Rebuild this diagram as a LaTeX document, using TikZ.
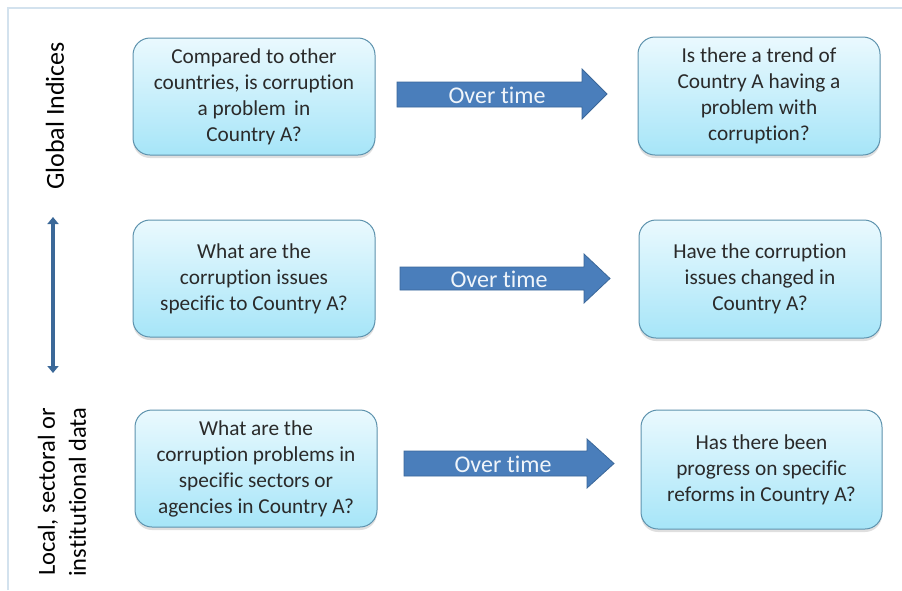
\documentclass[tikz,border=0pt]{standalone}
\usepackage{fontspec}
\setmainfont{Carlito}[Ligatures=NoCommon]
\usetikzlibrary{shadows,arrows.meta}
\definecolor{boxtop}{HTML}{EAF9FE}
\definecolor{boxbot}{HTML}{A6E5F8}
\definecolor{boxline}{HTML}{5E93AE}
\definecolor{arrfill}{HTML}{4A7EBB}
\definecolor{arrline}{HTML}{3A6799}
\definecolor{txt}{HTML}{2A2A2A}
\definecolor{frame}{HTML}{D3E2EE}
\definecolor{vert}{HTML}{3B6898}
\tikzset{
  qbox/.style={draw=boxline, line width=1pt, rounded corners=17pt,
    top color=boxtop, bottom color=boxbot, minimum width=242pt, minimum height=117pt,
    align=center, text=txt, font=\fontsize{21.3}{26}\selectfont, inner sep=0pt,
    drop shadow={opacity=0.25, shadow xshift=0pt, shadow yshift=-3pt}},
  overarrow/.style={fill=arrfill, draw=arrline, line width=0.8pt},
  overlabel/.style={text=white!92!arrfill, font=\fontsize{24}{26}\selectfont, inner sep=0pt},
  sidelabel/.style={text=black, rotate=90, align=center, inner sep=0pt}
}
\begin{document}
\begin{tikzpicture}[x=1pt,y=-1pt]
\useasboundingbox (0,0) rectangle (902,590);
\fill[white] (0,0) rectangle (902,590);
% frame
\draw[frame, line width=2pt] (8,590) -- (8,8) -- (902,8);

% boxes
\node[qbox] (b1) at (254,96.5) {Compared to other\\countries, is corruption\\a problem\, in\\Country A?};
\node[qbox, minimum height=118pt] (b2) at (759,96) {Is there a trend of\\Country A having a\\problem with\\corruption?};
\node[qbox] (b3) at (254,278.5) {What are the\\corruption issues\\specific to Country A?};
\node[qbox, minimum height=118pt] (b4) at (760,279) {Have the corruption\\issues changed in\\Country A?};
\node[qbox] (b5) at (256,468.5) {What are the\\corruption problems in\\specific sectors or\\agencies in Country A?};
\node[qbox, minimum width=241pt, minimum height=119pt] (b6) at (761.5,469.5) {Has there been\\progress on specific\\reforms in Country A?};

% over time arrows
\draw[overarrow] (397,82) -- (582,82) -- (582,69) -- (607,94) -- (582,119) -- (582,107) -- (397,107) -- cycle;
\node[overlabel] (t1) at (497,95) {Over time};
\draw[overarrow] (400,267) -- (584,267) -- (584,254) -- (610,278.5) -- (584,303) -- (584,290) -- (400,290) -- cycle;
\node[overlabel] (t2) at (499,279) {Over time};
\draw[overarrow] (404,451) -- (587,451) -- (587,439) -- (614,463.5) -- (587,488) -- (587,476) -- (404,476) -- cycle;
\node[overlabel] (t3) at (503,464) {Over time};

% vertical double arrow
\coordinate (vtop) at (53,217);
\coordinate (vbot) at (53,373);
\draw[vert, line width=3.5pt, {Triangle[width=11pt,length=7pt]}-{Triangle[width=11pt,length=7pt]}] (vtop) -- (vbot);

% side labels
\node[sidelabel, font=\fontsize{26}{30}\selectfont] (g) at (55,116) {Global Indices};
\node[sidelabel, font=\fontsize{24.5}{31}\selectfont] (l) at (62,492) {Local, sectoral or\\institutional data};
\end{tikzpicture}
\end{document}
